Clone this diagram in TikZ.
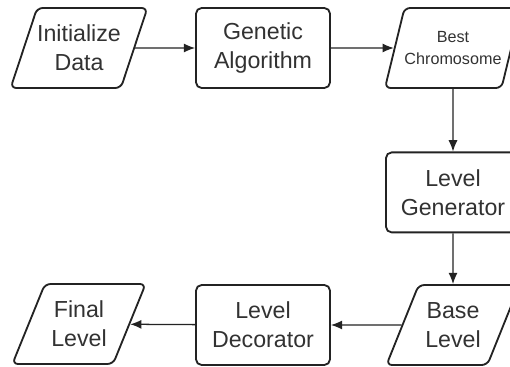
\documentclass[tikz,border=0pt]{standalone}
\usepackage{fontspec}
\setmainfont{Liberation Sans}
\usetikzlibrary{arrows.meta}
\usetikzlibrary{shapes.geometric}
\definecolor{flow line}{RGB}{35,35,35}
\definecolor{flow text}{RGB}{50,50,50}

\begin{document}
\begin{tikzpicture}[
					flow box/.style={draw=flow line, line width=1.3pt, rounded corners=4pt, minimum width=3.35cm, minimum height=2cm, align=center, text=flow text, font=\fontsize{16.5}{20.5}\selectfont},
					flow data/.style={flow box, trapezium, trapezium left angle=60, trapezium right angle=120, trapezium stretches=true, inner sep=0pt},
					flow arrow/.style={draw=flow line, line width=0.9pt, -{Latex[length=8pt,width=6.5pt]}},
				]
					\clip (0,0) rectangle (12.75,-9.175);
					
					\node[flow data] (init) at (1.975,-1.2) {Initialize\\Data};
					\node[flow box] (genetic) at (6.575,-1.2) {Genetic\\Algorithm};
					\node[flow data, font=\fontsize{11.5}{16}\selectfont] (best) at (11.325,-1.2) {Best\\Chromosome};
					\node[flow box] (generator) at (11.325,-4.81) {Level\\Generator};
					\node[flow data] (base) at (11.325,-8.125) {Base\\Level};
					\node[flow box] (decorator) at (6.575,-8.125) {Level\\Decorator};
					\node[flow data] (final) at (1.975,-8.1) {Final\\Level};
					
					\draw[flow arrow] (init) -- (genetic);
					\draw[flow arrow] (genetic) -- (best);
					\draw[flow arrow] (best) -- (generator);
					\draw[flow arrow] (generator) -- (base);
					\draw[flow arrow] (base) -- (decorator);
					\draw[flow arrow] (decorator) -- (final);
				\end{tikzpicture}
\end{document}
